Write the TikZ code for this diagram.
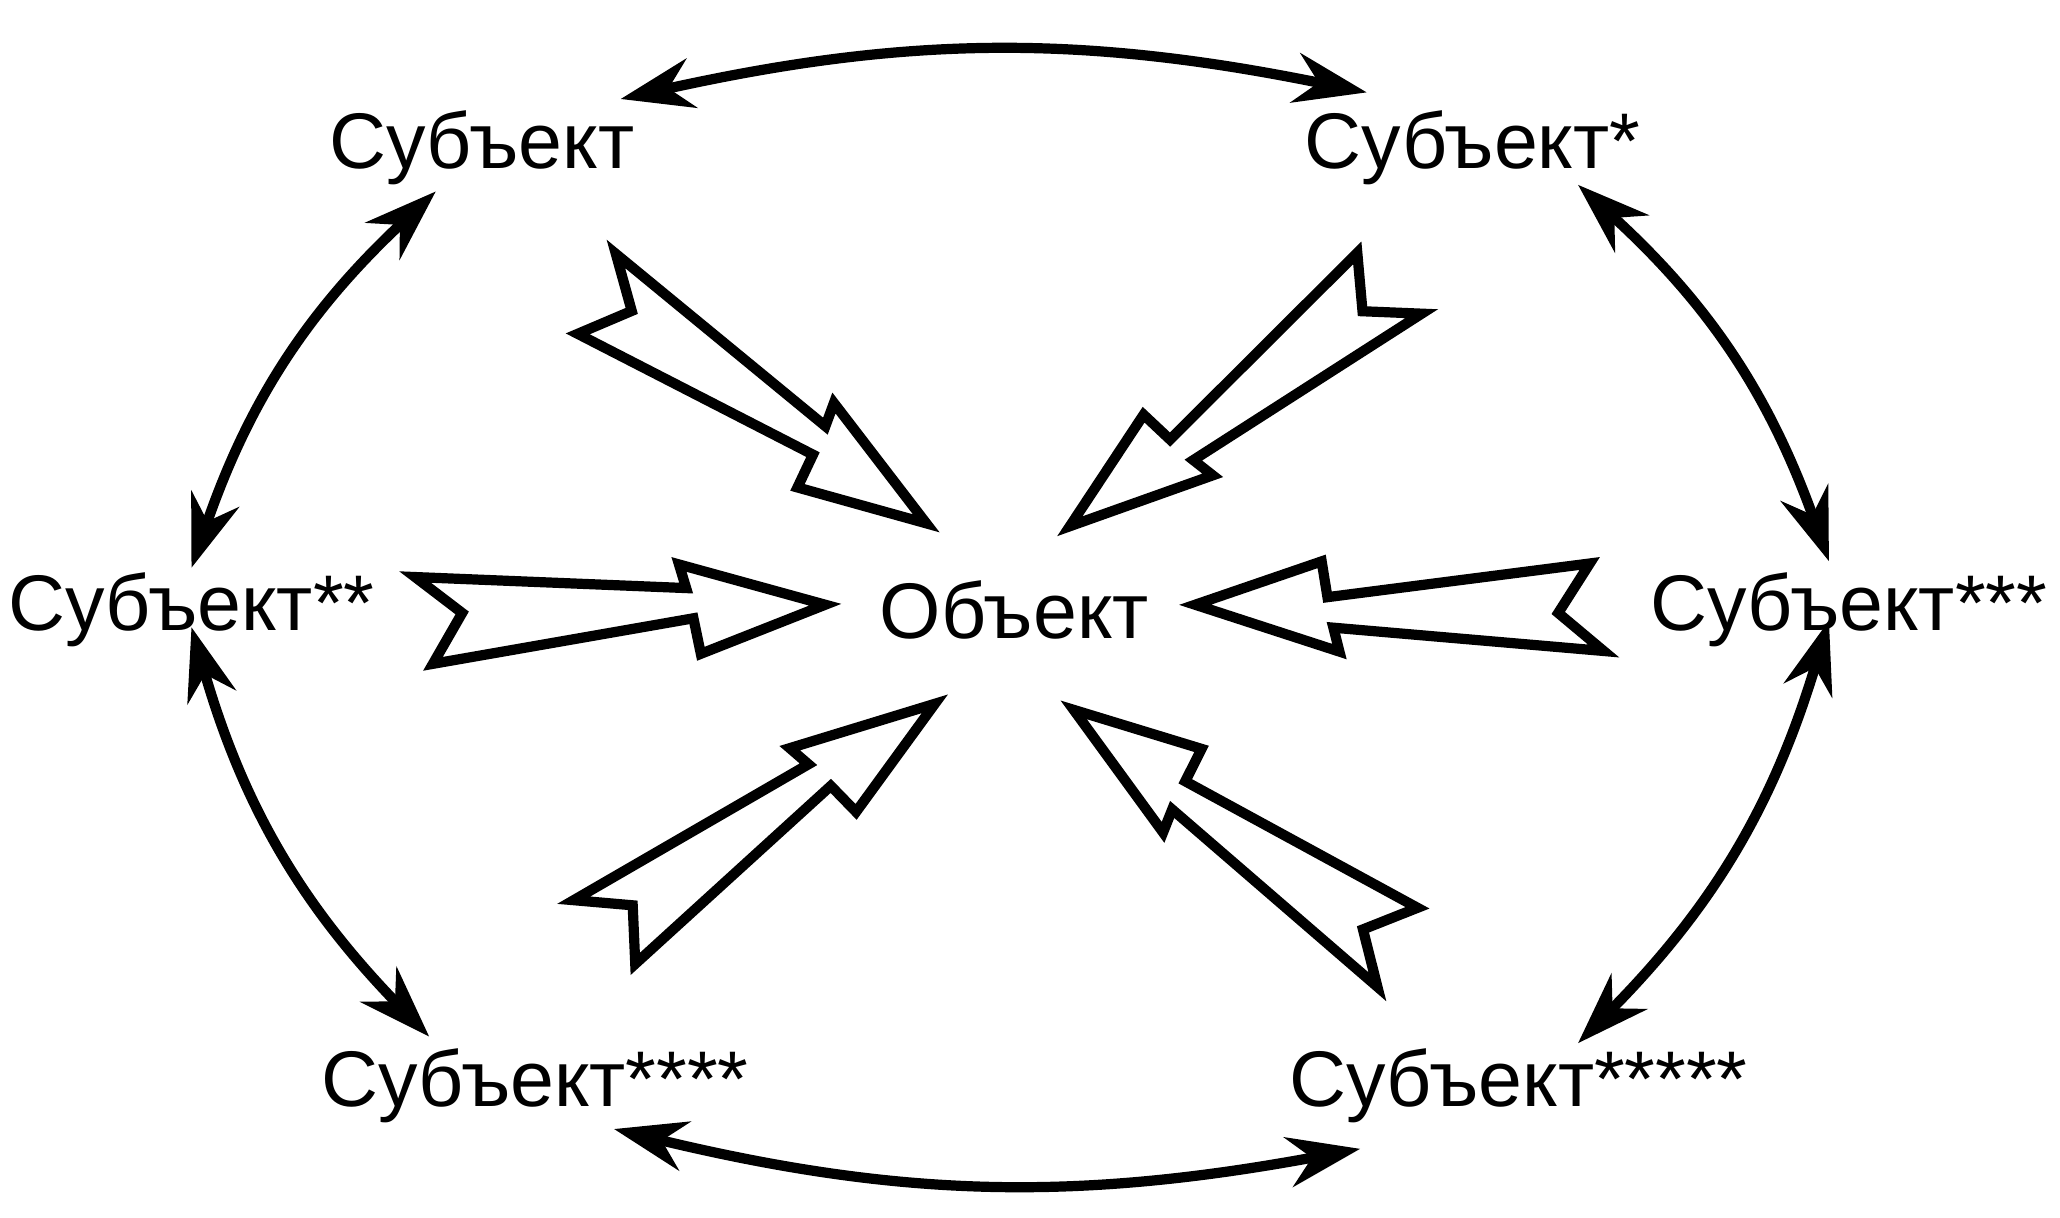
\documentclass[tikz,border=0pt]{standalone}
\usepackage{fontspec}
\setmainfont{Liberation Sans}
\usetikzlibrary{arrows.meta, positioning}
\tikzset{
    subjnode/.style = {draw=none, fill=none, inner sep=0em, font=\fontsize{17}{20}\selectfont},
    both/.style = {line width=2.2pt, {Stealth[length=0.55cm,width=0.38cm]}-{Stealth[length=0.55cm,width=0.38cm]}},
    hollowline/.style = {line width=2.2pt, line join=miter},
    pics/hollow/.style = {code={
        \draw[hollowline] (0,0.28) -- (0.35,0) -- (0.12,-0.38) -- (2.1,-0.08) -- (2.15,-0.35)
          -- (3.1,0) -- (2.0,0.33) -- (2.05,0.15) -- cycle;
    }}
}

\begin{document}
\begin{tikzpicture}
\useasboundingbox (0,0) rectangle (15.6,9.22);

\node [subjnode, name=obj] at (7.68,4.60) {Объект};
\node [subjnode, name=s0] at (3.65,8.10) {Субъект};
\node [subjnode, name=s1] at (11.15,8.10) {Субъект*};
\node [subjnode, name=s2] at (1.45,4.60) {Субъект**};
\node [subjnode, name=s3] at (14.00,4.60) {Субъект***};
\node [subjnode, name=s4] at (4.05,1.00) {Субъект****};
\node [subjnode, name=s5] at (11.50,1.00) {Субъект*****};

% curved double arrows
\coordinate (a0) at (4.70,8.47); \coordinate (a1) at (10.35,8.52);
\draw[both] (a0) to[bend left=12] (a1);
\coordinate (b0) at (3.30,7.77); \coordinate (b1) at (1.45,4.92);
\draw[both] (b0) to[bend right=14] (b1);
\coordinate (c0) at (11.95,7.82); \coordinate (c1) at (13.85,4.97);
\draw[both] (c0) to[bend left=14] (c1);
\coordinate (d0) at (1.45,4.47); \coordinate (d1) at (3.25,1.37);
\draw[both] (d0) to[bend right=14] (d1);
\coordinate (e0) at (13.85,4.52); \coordinate (e1) at (11.95,1.32);
\draw[both] (e0) to[bend left=14] (e1);
\coordinate (f0) at (4.65,0.67); \coordinate (f1) at (10.30,0.52);
\draw[both] (f0) to[bend right=12] (f1);

% hollow arrows
\pic[rotate=-35.8] at (4.50,7.07) {hollow};
\pic[rotate=-143.7] at (10.60,7.07) {hollow};
\pic[rotate=1.3] at (3.15,4.57) {hollow};
\pic[rotate=178.7] at (12.15,4.57) {hollow};
\pic[rotate=33.7] at (4.50,2.17) {hollow};
\pic[rotate=142.8] at (10.60,1.97) {hollow};
\end{tikzpicture}
\end{document}
